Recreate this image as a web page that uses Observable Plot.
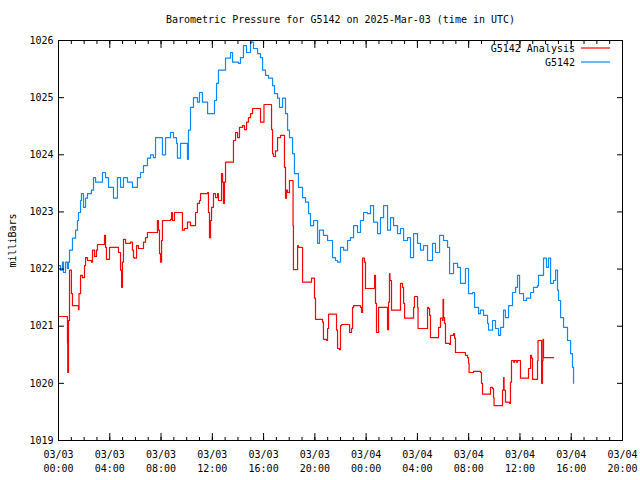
<!DOCTYPE html>
<html><head><meta charset="utf-8">
<script src="https://cdn.jsdelivr.net/npm/d3@7"></script>
<script src="https://cdn.jsdelivr.net/npm/@observablehq/plot@0.6"></script>
<style>
body{margin:0;background:#fff;}
#wrap{position:relative;width:640px;height:480px;}
#legend{position:absolute;left:0;top:0;pointer-events:none;}
</style></head><body><div id="wrap"></div>
<script>
// Hours after 2025-03-03 00:00 UTC and pressure (milliBars)
const stationHours = [0,0.16,0.31,0.39,0.55,0.70,0.78,0.86,1.09,1.33,1.48,1.56,1.72,1.79,1.95,2.11,2.26,2.57,2.73,2.89,3.12,3.43,3.67,3.90,4.29,4.60,4.84,5.07,5.38,5.77,6.16,6.40,6.63,6.94,7.18,7.41,7.57,7.96,8.11,8.35,8.74,8.97,9.21,9.28,9.52,9.75,10.06,10.14,10.30,10.53,10.84,11.00,11.23,11.63,12.02,12.17,12.33,12.48,12.80,13.03,13.42,13.58,14.04,14.20,14.43,14.67,14.98,15.21,15.53,15.76,15.92,16.15,16.38,16.70,16.85,17.09,17.24,17.48,17.71,17.87,18.02,18.26,18.41,18.72,19.04,19.27,19.51,19.66,19.90,20.21,20.36,20.67,20.99,21.22,21.38,21.61,21.77,22.00,22.24,22.55,22.78,23.02,23.33,23.56,23.80,24.11,24.34,24.58,24.89,25.12,25.36,25.67,25.90,26.14,26.45,26.68,26.92,27.23,27.46,27.70,28.01,28.24,28.48,28.79,29.18,29.41,29.73,30.04,30.35,30.51,30.82,31.13,31.36,31.75,31.99,32.30,32.46,32.77,32.92,33.16,33.47,33.55,33.86,34.09,34.33,34.49,34.72,34.87,35.11,35.42,35.66,35.81,35.97,36.28,36.51,36.83,37.06,37.37,37.45,37.76,37.84,38.07,38.23,38.39,38.62,38.78,38.93,39.01,39.17,39.40,39.71,39.95,40.10,40.18];
const stationPressure = [1022.06,1021.98,1022.12,1021.94,1022.12,1022.01,1022.12,1022.33,1022.54,1022.68,1022.85,1022.99,1023.20,1023.32,1023.08,1023.24,1023.32,1023.38,1023.60,1023.52,1023.52,1023.69,1023.60,1023.43,1023.24,1023.60,1023.43,1023.60,1023.52,1023.43,1023.60,1023.69,1023.81,1023.94,1024.00,1023.95,1024.30,1024.30,1024.00,1024.30,1024.39,1024.30,1024.20,1023.94,1024.20,1024.20,1023.92,1024.43,1024.83,1025.00,1024.92,1025.09,1024.92,1024.72,1024.72,1024.95,1025.25,1025.48,1025.48,1025.69,1025.79,1025.62,1025.60,1025.70,1025.91,1025.79,1025.97,1025.86,1025.77,1025.70,1025.48,1025.39,1025.34,1025.21,1025.07,1024.99,1024.83,1024.99,1024.72,1024.43,1024.30,1024.02,1023.67,1023.43,1023.25,1023.17,1022.97,1022.76,1022.85,1022.45,1022.68,1022.59,1022.50,1022.50,1022.20,1022.15,1022.12,1022.38,1022.33,1022.50,1022.55,1022.76,1022.64,1022.85,1022.99,1022.97,1023.11,1022.82,1022.62,1022.90,1023.11,1022.68,1022.90,1022.76,1022.62,1022.71,1022.50,1022.55,1022.20,1022.62,1022.45,1022.33,1022.41,1022.15,1022.45,1022.29,1022.59,1022.50,1022.38,1021.92,1022.10,1022.03,1021.75,1022.01,1021.57,1021.59,1021.33,1021.22,1021.28,1021.19,1021.05,1020.93,1021.10,1020.96,1020.84,1020.98,1021.28,1021.15,1021.36,1021.59,1021.68,1021.89,1021.57,1021.45,1021.49,1021.59,1021.68,1021.71,1021.89,1021.89,1022.19,1022.03,1022.19,1021.75,1021.80,1021.98,1021.63,1021.45,1021.15,1020.98,1020.75,1020.52,1020.28,1020.00];

const analysisHours = [0,0.62,0.70,0.72,0.78,0.86,1.01,1.09,1.48,1.56,1.60,1.72,1.87,2.03,2.11,2.26,2.50,2.57,2.65,2.81,2.96,3.04,3.51,3.59,3.67,3.74,3.90,3.98,4.60,4.68,4.84,4.92,4.99,5.07,5.23,5.62,5.77,5.85,5.93,6.09,6.24,6.55,6.63,6.79,6.94,7.57,7.72,7.80,7.88,7.96,8.04,8.11,8.74,8.82,8.89,9.05,9.60,9.67,9.83,10.06,10.22,10.30,10.61,10.69,10.84,11.00,11.08,11.63,11.70,11.78,11.86,11.94,12.09,12.25,12.41,12.48,12.72,12.80,12.87,12.95,13.03,13.58,13.65,13.81,13.97,14.12,14.36,14.51,14.67,14.82,14.98,15.14,15.60,15.76,15.99,16.03,16.54,16.62,16.70,16.77,16.93,17.09,17.32,17.56,17.63,17.71,17.79,17.87,18.02,18.26,18.30,18.33,18.57,18.65,18.72,18.88,19.04,19.66,19.74,19.90,19.97,20.05,20.44,20.60,20.67,20.91,20.99,21.07,21.61,21.69,21.77,21.92,22.00,22.08,22.63,22.71,22.86,22.94,23.02,23.56,23.64,23.72,23.87,23.95,24.58,24.66,24.73,24.81,24.89,24.97,25.59,25.67,25.75,25.82,25.86,25.98,26.61,26.68,26.84,26.92,27.00,27.62,27.70,27.77,27.93,28.01,28.05,28.71,28.79,28.87,28.95,29.02,29.57,29.65,29.80,29.96,30.00,30.04,30.12,30.19,30.51,30.58,30.82,30.90,30.97,31.60,31.75,31.91,31.99,32.03,32.38,32.92,33.00,33.08,33.55,33.70,33.86,33.94,33.98,34.56,34.64,34.72,34.76,34.87,35.19,35.26,35.34,35.50,35.58,35.73,35.81,35.97,36.04,36.59,36.67,36.83,36.90,36.98,37.29,37.37,37.41,37.61,37.69,37.76,37.80,37.84,38.62];
const analysisPressure = [1021.17,1021.17,1020.70,1020.19,1021.10,1021.98,1021.57,1021.36,1021.36,1021.29,1021.57,1021.89,1021.85,1022.06,1022.20,1022.15,1022.15,1022.12,1022.33,1022.22,1022.33,1022.43,1022.43,1022.59,1022.38,1022.17,1022.17,1022.38,1022.38,1022.29,1021.98,1021.68,1022.12,1022.52,1022.45,1022.47,1022.33,1022.20,1022.19,1022.41,1022.36,1022.36,1022.47,1022.55,1022.64,1022.64,1022.85,1022.68,1022.27,1022.12,1022.50,1022.85,1022.87,1022.99,1022.85,1022.99,1022.99,1022.68,1022.71,1022.82,1022.82,1022.76,1022.76,1022.99,1023.15,1023.20,1023.32,1023.34,1022.99,1022.55,1022.85,1023.08,1023.32,1023.25,1023.32,1023.20,1023.67,1023.52,1023.15,1023.52,1023.87,1023.87,1024.25,1024.39,1024.30,1024.48,1024.51,1024.44,1024.57,1024.65,1024.72,1024.81,1024.81,1024.57,1024.57,1024.88,1024.88,1024.44,1024.02,1023.97,1024.07,1024.30,1024.34,1024.34,1023.78,1023.24,1023.38,1023.34,1023.55,1023.55,1022.76,1021.99,1021.99,1022.41,1022.38,1022.38,1021.77,1021.77,1021.84,1021.84,1021.49,1021.12,1021.12,1021.07,1020.77,1020.75,1020.96,1021.21,1021.21,1020.93,1020.61,1020.59,1021.01,1021.03,1021.03,1020.89,1020.96,1021.33,1021.36,1021.33,1021.24,1022.19,1022.12,1021.66,1021.66,1021.89,1021.40,1020.89,1020.89,1021.33,1021.33,1020.94,1021.42,1021.92,1021.80,1021.28,1021.28,1021.75,1021.68,1021.40,1021.14,1021.14,1021.33,1021.52,1021.52,1021.33,1020.96,1020.96,1021.33,1021.31,1021.19,1020.80,1020.80,1020.98,1021.14,1021.10,1021.47,1021.15,1021.05,1020.70,1020.68,1020.84,1020.87,1020.79,1020.54,1020.54,1020.49,1020.45,1020.35,1020.19,1020.21,1020.19,1020.00,1019.81,1019.81,1019.93,1019.91,1019.75,1019.61,1019.61,1019.88,1020.10,1019.88,1019.67,1019.65,1020.02,1020.40,1020.37,1020.40,1020.37,1020.40,1020.40,1020.09,1020.09,1020.26,1020.49,1020.44,1020.07,1020.07,1020.40,1020.75,1020.75,1020.00,1020.40,1020.77,1020.45,1020.45];

const yTicks = [1019,1020,1021,1022,1023,1024,1025,1026];
const xTickHours = [0,4,8,12,16,20,24,28,32,36,40,44];
const seriesNames = ["G5142 Analysis", "G5142"];
const seriesColors = ["#ff0000", "#0a88ff"];
const title = "Barometric Pressure for G5142 on 2025-Mar-03 (time in UTC)";
const yLabel = "milliBars";

const t0 = Date.UTC(2025, 2, 3, 0, 0);
const toDate = h => new Date(t0 + h * 3600e3);
const station = stationHours.map((h, i) => ({t: toDate(h), p: stationPressure[i]}));
const analysis = analysisHours.map((h, i) => ({t: toDate(h), p: analysisPressure[i]}));
const xTicks = xTickHours.map(toDate);
const minorTicks = d3.range(0, 45).map(toDate);
const fmt = d3.utcFormat("%m/%d\n%H:%M");
const font = "'DejaVu Sans Mono', 'Liberation Mono', monospace";

const chart = Plot.plot({
  width: 640, height: 480,
  marginLeft: 58, marginRight: 18, marginTop: 40, marginBottom: 40,
  style: {fontFamily: font, fontSize: "10px", background: "#fff", color: "#000"},
  x: {type: "utc", domain: [toDate(0), toDate(44)], label: null},
  y: {domain: [1019, 1026], label: null},
  marks: [
    Plot.line(analysis, {x: "t", y: "p", stroke: seriesColors[0], strokeWidth: 1.2, curve: "step-after"}),
    Plot.line(station, {x: "t", y: "p", stroke: seriesColors[1], strokeWidth: 1.2, curve: "step-after"}),
    Plot.frame({stroke: "#000", strokeWidth: 1}),
    Plot.axisY({anchor: "left", ticks: yTicks, tickSize: 0, tickPadding: 5, tickFormat: d => String(d), label: null}),
    Plot.axisY({anchor: "left", ticks: yTicks, tickSize: 6, dx: 6, fill: "none", label: null}),
    Plot.axisY({anchor: "right", ticks: yTicks, tickSize: 6, dx: -6, fill: "none", label: null}),
    Plot.axisX({anchor: "bottom", ticks: xTicks, tickSize: 0, tickPadding: 8, tickFormat: fmt, lineHeight: 1.4, label: null}),
    Plot.axisX({anchor: "bottom", ticks: xTicks, tickSize: 7, dy: -7, fill: "none", label: null}),
    Plot.axisX({anchor: "bottom", ticks: minorTicks, tickSize: 3, dy: -3, fill: "none", label: null}),
    Plot.axisX({anchor: "top", ticks: xTicks, tickSize: 7, dy: 7, fill: "none", label: null}),
    Plot.axisX({anchor: "top", ticks: minorTicks, tickSize: 3, dy: 3, fill: "none", label: null}),
    Plot.text([title], {frameAnchor: "top", dy: -21, lineAnchor: "middle", fill: "#000", fontSize: 10}),
    Plot.text([yLabel], {frameAnchor: "left", dx: -46, rotate: -90, lineAnchor: "middle", textAnchor: "middle", fill: "#000", fontSize: 10})
  ]
});
const wrap = document.getElementById("wrap");
wrap.appendChild(chart);

// legend (top-right, inside the frame)
const ns = "http://www.w3.org/2000/svg";
const leg = document.createElementNS(ns, "svg");
leg.setAttribute("id", "legend");
leg.setAttribute("width", 640);
leg.setAttribute("height", 80);
seriesNames.forEach((name, i) => {
  const y = 48 + i * 14;
  const tx = document.createElementNS(ns, "text");
  tx.setAttribute("x", 575); tx.setAttribute("y", y);
  tx.setAttribute("text-anchor", "end"); tx.setAttribute("dominant-baseline", "central");
  tx.setAttribute("font-family", font); tx.setAttribute("font-size", "10px");
  tx.textContent = name;
  leg.appendChild(tx);
  const ln = document.createElementNS(ns, "line");
  ln.setAttribute("x1", 581); ln.setAttribute("x2", 610);
  ln.setAttribute("y1", y); ln.setAttribute("y2", y);
  ln.setAttribute("stroke", seriesColors[i]); ln.setAttribute("stroke-width", 1.2);
  leg.appendChild(ln);
});
wrap.appendChild(leg);
</script>
</body></html>
